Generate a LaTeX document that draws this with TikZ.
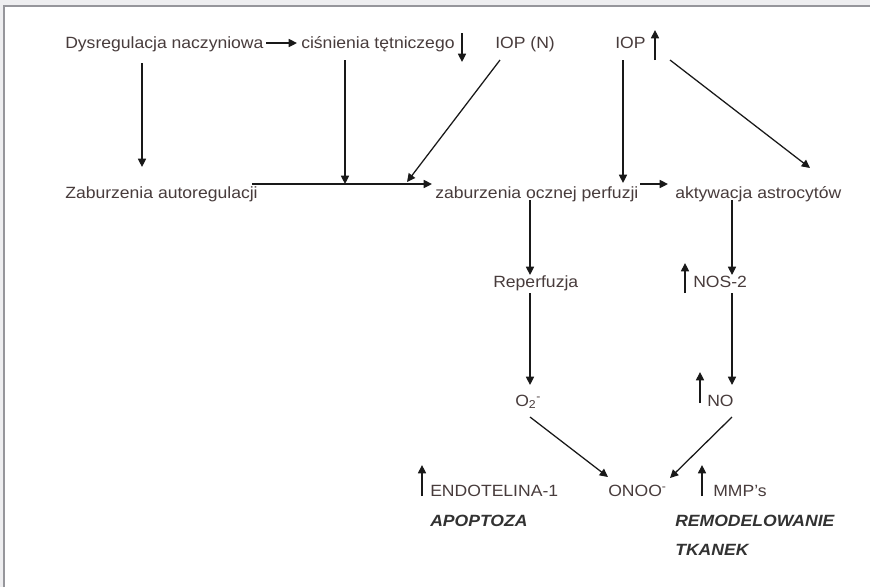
\documentclass[tikz,border=0pt]{standalone}
\usepackage{fontspec}
\setmainfont{Liberation Sans}[FakeStretch=1.08]
\usetikzlibrary{arrows.meta,calc}
\definecolor{txt}{RGB}{72,60,60}
\definecolor{btxt}{RGB}{50,50,50}
\definecolor{frame}{RGB}{150,150,155}
\definecolor{strip}{RGB}{238,238,240}
\begin{document}
\begin{tikzpicture}[x=0.75pt,y=-0.75pt,
  lbl/.style={anchor=base west,inner sep=0pt,text=txt,font=\fontsize{12.2pt}{14pt}\selectfont},
  blbl/.style={anchor=base west,inner sep=0pt,text=btxt,font=\fontsize{12.2pt}{14pt}\selectfont\bfseries\itshape},
  arr/.style={draw=black!90,line width=0.95pt,-{Triangle[length=6.2pt,width=6pt]}}]
\useasboundingbox (0,0) rectangle (870,587);
\fill[white] (0,0) rectangle (870,587);
\fill[strip] (0,0) rectangle (870,4.5);
\fill[strip] (0,0) rectangle (3,587);
\draw[frame,line width=1.5pt] (4,587) -- (4,5.5) -- (870,5.5);
% nodes
\node[lbl] (dys) at (65,48) {Dysregulacja naczyniowa};
\node[lbl] (cis) at (301,48) {ciśnienia tętniczego};
\node[lbl] (iopn) at (495,48) {IOP (N)};
\node[lbl] (iop) at (615,48) {IOP};
\node[lbl] (zab) at (65,198) {Zaburzenia autoregulacji};
\node[lbl] (zop) at (435,198) {zaburzenia ocznej perfuzji};
\node[lbl] (akt) at (675,198) {aktywacja astrocytów};
\node[lbl] (rep) at (493,287) {Reperfuzja};
\node[lbl] (nos) at (693,287) {NOS-2};
\node[lbl] (o2) at (515,406) {O\textsubscript{2}\textsuperscript{-}};
\node[lbl] (no) at (707,406) {NO};
\node[lbl] (onoo) at (608,496) {ONOO\textsuperscript{-}};
\node[lbl] (endo) at (430,496) {ENDOTELINA-1};
\node[lbl] (mmp) at (713,496) {MMP’s};
\node[blbl] (apo) at (430,526) {APOPTOZA};
\node[blbl] (remo) at (675,526) {REMODELOWANIE};
\node[blbl] (tka) at (675,555) {TKANEK};
% connectors
\draw[arr] ($(dys.base west)+(201,-5)$) -- ($(cis.base west)+(-4,-5)$);
\draw[arr] ($(dys.base west)+(77,15)$) -- ($(zab.base west)+(77,-31)$);
\draw[arr] ($(cis.base west)+(44,12)$) -- ($(zab.base west)+(280,-14)$);
\draw[arr] ($(iopn.base west)+(5,12)$) -- ($(zab.base west)+(342,-16)$);
\draw[arr] ($(zab.base west)+(187,-14)$) -- ($(zop.base west)+(-3,-14)$);
\draw[arr] ($(iop.base west)+(8,12)$) -- ($(zop.base west)+(188,-15)$);
\draw[arr] ($(iop.base west)+(55,12)$) -- ($(akt.base west)+(135,-30)$);
\draw[arr] ($(zop.base west)+(205,-14)$) -- ($(akt.base west)+(-7,-14)$);
\draw[arr] ($(zop.base west)+(95,2)$) -- ($(rep.base west)+(37,-12)$);
\draw[arr] ($(akt.base west)+(57,2)$) -- ($(nos.base west)+(39,-12)$);
\draw[arr] ($(rep.base west)+(37,6)$) -- ($(o2.base west)+(15,-21)$);
\draw[arr] ($(nos.base west)+(39,6)$) -- ($(no.base west)+(25,-21)$);
\draw[arr] ($(o2.base west)+(15,11)$) -- ($(onoo.base west)+(0,-19)$);
\draw[arr] ($(no.base west)+(25,11)$) -- ($(onoo.base west)+(62,-18)$);
% small up/down marks
\draw[arr] ($(cis.base west)+(161,-15)$) -- ($(cis.base west)+(161,14)$);
\draw[arr] ($(iop.base west)+(40,12)$) -- ($(iop.base west)+(40,-18)$);
\draw[arr] ($(nos.base west)+(-8,6)$) -- ($(nos.base west)+(-8,-24)$);
\draw[arr] ($(no.base west)+(-7,-3)$) -- ($(no.base west)+(-7,-34)$);
\draw[arr] ($(endo.base west)+(-8,0)$) -- ($(endo.base west)+(-8,-31)$);
\draw[arr] ($(mmp.base west)+(-11,0)$) -- ($(mmp.base west)+(-11,-31)$);
\end{tikzpicture}
\end{document}
